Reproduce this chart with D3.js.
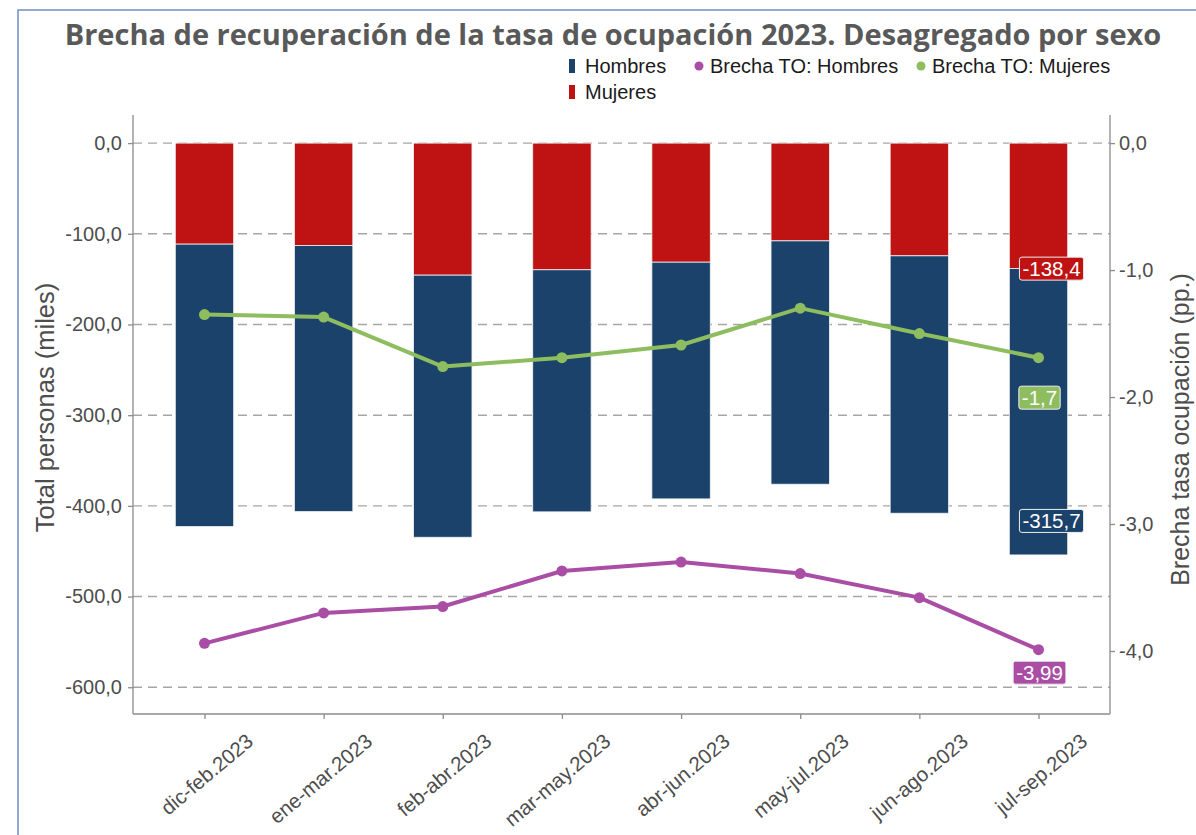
<!DOCTYPE html>
<meta charset="utf-8">
<style>
body { margin: 0; background: #fff; }
svg { font-family: "Liberation Sans", Arial, sans-serif; }
.tick text { fill: #4d4d4d; font-size: 20px; }
.grid line { stroke: #a6a6a6; stroke-width: 1.4px; stroke-dasharray: 9,6; }
.axis path, .axis line { stroke: #8c8c8c; stroke-width: 1.3px; }
</style>
<body>
<script src="https://cdn.jsdelivr.net/npm/d3@7"></script>
<script>

// data
var periodos = ["dic-feb.2023", "ene-mar.2023", "feb-abr.2023", "mar-may.2023",
                "abr-jun.2023", "may-jul.2023", "jun-ago.2023", "jul-sep.2023"];
var mujeres = [-111.4, -112.9, -145.6, -139.7, -131.3, -107.8, -124.3, -138.4];
var hombres = [-311.4, -293.4, -289.0, -266.9, -261.0, -268.3, -283.8, -315.7];
var brechaHombres = [-3.94, -3.70, -3.65, -3.37, -3.30, -3.39, -3.58, -3.99];
var brechaMujeres = [-1.35, -1.37, -1.76, -1.69, -1.59, -1.30, -1.50, -1.69];
var ticksIzq = [0, -100, -200, -300, -400, -500, -600];
var ticksDer = [0, -1, -2, -3, -4];

var colHombres = "#1b426b", colMujeres = "#bf1212",
    colBH = "#a94ea4", colBM = "#8ebd5f";

var W = 1196, H = 835;
var plot = {left: 133, right: 1110, top: 115, bottom: 714};

var es = d3.formatLocale({decimal: ",", thousands: ".", grouping: [3], currency: ["", "€"], minus: "-"});
var f1 = es.format(".1f"), f2 = es.format(".2f");

var svg = d3.select("body").append("svg")
    .attr("width", W).attr("height", H);

// outer frame (left and top edges visible)
svg.append("path")
    .attr("d", "M18," + H + "V10H" + W)
    .attr("fill", "none").attr("stroke", "#6f8fc2").attr("stroke-width", 1.5);

// scales
var x = d3.scalePoint().domain(periodos).range([plot.left, plot.right]).padding(0.6);
var yL = d3.scaleLinear().domain([-629.5, 31]).range([plot.bottom, plot.top]);
var ratio = 140;
var yR = d3.scaleLinear().domain([-629.5 / ratio, 31 / ratio]).range([plot.bottom, plot.top]);
var barW = x.step() * 0.49;

// title
svg.append("text")
    .attr("x", 613).attr("y", 45).attr("text-anchor", "middle")
    .style("font-family", "'Open Sans', sans-serif")
    .style("font-weight", 700).style("font-size", "29px")
    .attr("fill", "#595959")
    .text("Brecha de recuperación de la tasa de ocupación 2023. Desagregado por sexo");

// grid
svg.append("g").attr("class", "grid")
  .selectAll("line").data(ticksIzq).enter().append("line")
    .attr("x1", plot.left).attr("x2", plot.right)
    .attr("y1", d => yL(d)).attr("y2", d => yL(d));

// bars
var datos = periodos.map((p, i) => ({p: p, m: mujeres[i], h: hombres[i]}));
var barras = svg.append("g");
barras.selectAll(".m").data(datos).enter().append("rect")
    .attr("x", d => x(d.p) - barW / 2).attr("width", barW)
    .attr("y", d => yL(0)).attr("height", d => yL(d.m) - yL(0))
    .attr("fill", colMujeres).attr("stroke", "#f2f2f2").attr("stroke-width", 0.8);
barras.selectAll(".h").data(datos).enter().append("rect")
    .attr("x", d => x(d.p) - barW / 2).attr("width", barW)
    .attr("y", d => yL(d.m)).attr("height", d => yL(d.m + d.h) - yL(d.m))
    .attr("fill", colHombres).attr("stroke", "#f2f2f2").attr("stroke-width", 0.8);

// lines
function serie(vals, col) {
  var pts = periodos.map((p, i) => [x(p), yR(vals[i])]);
  svg.append("path").attr("d", d3.line()(pts))
    .attr("fill", "none").attr("stroke", col).attr("stroke-width", 4)
    .attr("stroke-linejoin", "round");
  svg.append("g").selectAll("circle").data(pts).enter().append("circle")
    .attr("cx", d => d[0]).attr("cy", d => d[1]).attr("r", 5.5).attr("fill", col);
}
serie(brechaMujeres, colBM);
serie(brechaHombres, colBH);

// axes
var axL = svg.append("g").attr("class", "axis")
    .attr("transform", "translate(" + plot.left + ",0)")
    .call(d3.axisLeft(yL).tickValues(ticksIzq).tickFormat(f1).tickSize(5).tickPadding(6));
var axR = svg.append("g").attr("class", "axis")
    .attr("transform", "translate(" + plot.right + ",0)")
    .call(d3.axisRight(yR).tickValues(ticksDer).tickFormat(f1).tickSize(5).tickPadding(4));
var axB = svg.append("g").attr("class", "axis")
    .attr("transform", "translate(0," + plot.bottom + ")")
    .call(d3.axisBottom(x).tickSize(5).tickSizeOuter(0));
[axL, axR].forEach(a => a.select(".domain").attr("d", "M0," + plot.top + "V" + plot.bottom));
axB.select(".domain").attr("d", "M" + plot.left + ",0H" + plot.right);
axB.selectAll(".tick text")
    .attr("text-anchor", "end")
    .attr("transform", "translate(45,24) rotate(-40)")
    .attr("dy", "0.35em").attr("y", 0)
    .style("font-size", "20.5px");

// axis titles
svg.append("text")
    .attr("transform", "translate(54," + ((plot.top + plot.bottom) / 2 - 7) + ") rotate(-90)")
    .attr("text-anchor", "middle").attr("fill", "#4d4d4d")
    .style("font-size", "25.5px").text("Total personas (miles)");
svg.append("text")
    .attr("transform", "translate(1189," + ((plot.top + plot.bottom) / 2 + 15) + ") rotate(-90)")
    .attr("text-anchor", "middle").attr("fill", "#4d4d4d")
    .style("font-size", "25px").text("Brecha tasa ocupación (pp.)");

// value labels on the last period
var ult = periodos.length - 1, xu = x(periodos[ult]);
function etiqueta(cx, cy, txt, col) {
  var g = svg.append("g").attr("transform", "translate(" + cx + "," + cy + ")");
  var t = g.append("text").attr("text-anchor", "middle").attr("dy", "0.36em")
    .attr("fill", "#fff").style("font-size", "20.5px").text(txt);
  var bb = t.node().getBBox();
  g.insert("rect", "text")
    .attr("x", bb.x - 3).attr("y", -11.5).attr("width", bb.width + 6).attr("height", 23)
    .attr("rx", 2.5).attr("fill", col).attr("stroke", "#eee").attr("stroke-width", 1);
}
etiqueta(xu + 13, yL(mujeres[ult]), f1(mujeres[ult]), colMujeres);
etiqueta(xu + 13, yL(mujeres[ult] + hombres[ult]) - 34, f1(hombres[ult]), colHombres);
etiqueta(xu + 1, yR(brechaMujeres[ult]) + 40, f1(brechaMujeres[ult]), colBM);
etiqueta(xu + 1, yR(brechaHombres[ult]) + 23, f2(brechaHombres[ult]), colBH);

// legend
var leg = svg.append("g").style("font-size", "20px").attr("fill", "#1a1a1a");
var items = [
  {t: "Hombres", c: colHombres, tipo: "bar", x: 572, y: 66},
  {t: "Brecha TO: Hombres", c: colBH, tipo: "pt", x: 699, y: 66},
  {t: "Brecha TO: Mujeres", c: colBM, tipo: "pt", x: 921, y: 66},
  {t: "Mujeres", c: colMujeres, tipo: "bar", x: 572, y: 92}
];
items.forEach(function(d) {
  if (d.tipo == "bar")
    leg.append("rect").attr("x", d.x - 3).attr("y", d.y - 7).attr("width", 6).attr("height", 14).attr("fill", d.c);
  else
    leg.append("circle").attr("cx", d.x).attr("cy", d.y).attr("r", 4.5).attr("fill", d.c);
  leg.append("text").attr("x", d.x + (d.tipo == "bar" ? 13 : 11)).attr("y", d.y).attr("dy", "0.36em").text(d.t);
});

</script>
</body>
